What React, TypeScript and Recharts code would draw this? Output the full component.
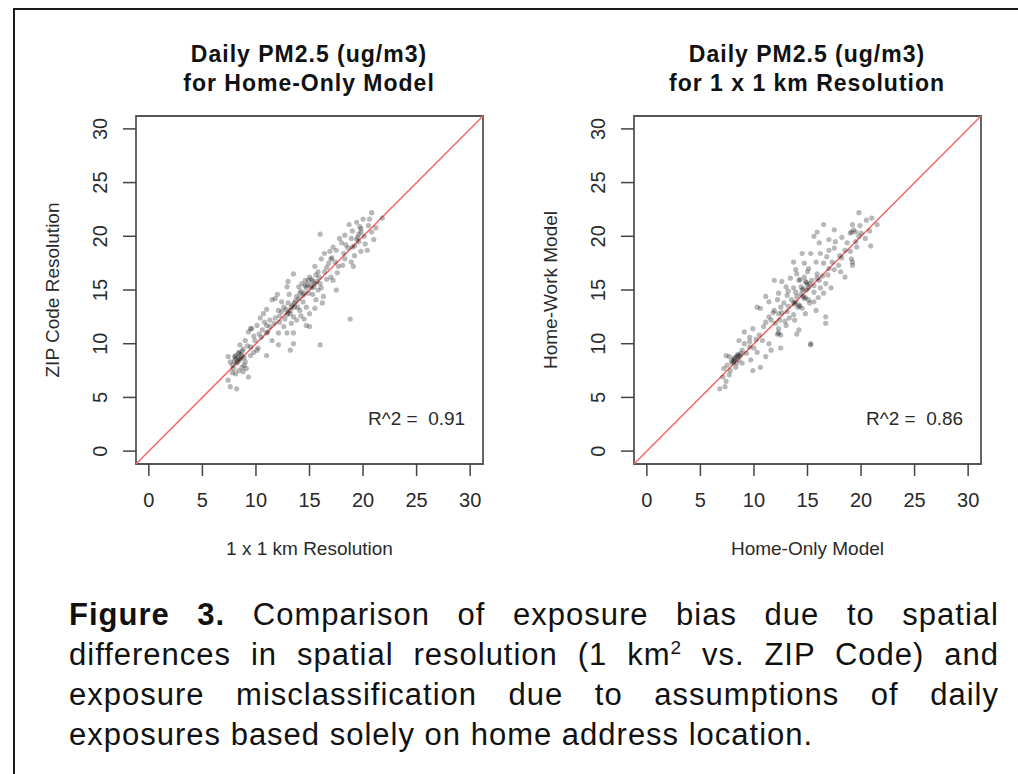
import { ScatterChart, Scatter, XAxis, YAxis, ReferenceLine, ReferenceArea, ReferenceDot } from 'recharts';

// 1 x 1 km Resolution (x) vs ZIP Code Resolution (y)
const kmVsZip: [number, number][] = [
  [20.8, 22.2], [21.8, 21.7], [18.7, 21.1], [19.8, 20.7], [19.8, 20.4], [16.0, 20.2], [20.8, 20.4], [18.3, 20.1],
  [17.8, 19.8], [18.9, 19.8], [19.4, 19.7], [19.5, 19.9], [18.0, 19.4], [18.4, 19.2], [19.8, 18.6], [20.4, 18.7],
  [17.2, 19.0], [17.5, 18.7], [16.4, 18.4], [16.9, 18.6], [16.1, 17.9], [17.0, 17.9], [17.1, 18.0], [18.9, 17.6],
  [19.1, 17.2], [18.1, 17.3], [17.7, 17.2], [13.5, 16.5], [15.5, 17.2], [15.8, 16.7], [15.0, 16.2], [14.6, 15.9],
  [15.3, 15.8], [15.2, 16.0], [16.4, 16.7], [17.0, 16.2], [17.2, 15.9], [14.3, 15.6], [14.0, 15.3], [14.7, 15.2],
  [13.0, 15.8], [12.9, 15.3], [15.2, 15.2], [15.1, 15.4], [14.9, 14.7], [14.4, 14.5], [14.5, 14.7], [13.8, 14.4],
  [15.8, 15.0], [16.1, 15.2], [16.3, 14.4], [15.6, 14.1], [11.5, 14.1], [11.8, 14.2], [12.4, 13.9], [13.0, 13.8],
  [13.3, 13.4], [13.4, 13.6], [13.6, 13.8], [12.6, 13.4], [12.1, 13.1], [14.1, 13.1], [14.7, 13.4], [15.5, 13.3],
  [15.0, 12.8], [12.9, 12.7], [13.0, 12.9], [13.2, 12.8], [13.5, 12.5], [11.8, 12.4], [11.3, 12.2], [10.7, 12.8],
  [10.4, 12.4], [14.7, 11.7], [15.0, 11.6], [18.8, 12.3], [13.8, 12.2], [13.3, 11.9], [12.2, 12.0], [12.6, 11.6],
  [11.0, 11.7], [10.1, 11.7], [9.6, 11.4], [9.3, 11.1], [9.5, 11.4], [11.0, 11.0], [11.1, 11.1], [12.1, 11.0],
  [12.9, 11.0], [13.5, 11.0], [10.5, 10.6], [9.9, 10.3], [11.5, 10.3], [12.1, 9.9], [13.5, 10.0], [13.2, 9.4],
  [16.0, 9.9], [9.0, 10.3], [8.5, 9.9], [9.5, 9.7], [10.1, 9.4], [11.0, 8.9], [10.2, 9.6],
  [8.4, 9.1], [8.4, 9.2], [8.7, 8.8], [8.1, 8.6], [8.5, 8.5], [8.5, 8.6], [9.0, 8.3], [8.2, 8.2], [8.3, 8.3],
  [7.8, 8.0], [8.7, 7.8], [7.9, 7.7], [9.1, 7.7], [7.4, 8.8], [7.6, 8.3], [8.4, 7.5], [8.8, 7.4], [8.1, 7.2],
  [9.3, 6.9], [7.4, 6.6], [8.2, 5.8], [7.6, 6.0], [9.8, 9.2], [9.5, 8.9],
  [14.2, 14.9], [14.8, 15.5], [15.5, 15.6], [15.9, 16.2], [16.6, 17.1], [17.4, 17.6], [18.2, 18.4], [18.6, 18.9],
  [19.2, 19.1], [19.6, 19.5], [20.1, 20.0], [20.5, 21.0], [21.2, 20.8], [20.0, 21.6], [19.0, 20.5], [12.2, 12.6],
  [11.7, 11.9], [12.4, 13.0], [13.7, 14.0], [14.0, 14.2], [10.3, 10.9], [9.8, 10.7], [8.8, 9.5], [9.2, 9.8],
  [8.0, 8.4], [8.1, 8.9], [8.7, 9.3], [7.8, 7.3], [8.9, 8.0], [10.6, 11.3], [11.3, 11.6], [12.7, 12.3],
  [13.9, 13.4], [14.4, 13.9], [15.3, 14.6], [16.0, 15.6], [16.6, 16.0], [17.6, 16.6], [18.3, 17.9], [19.2, 18.2],
  [16.8, 17.5], [15.6, 16.4], [13.1, 14.6], [12.0, 14.6], [11.0, 13.2], [10.8, 12.0], [14.2, 12.6], [14.5, 12.3],
  [16.2, 13.8], [17.5, 15.0], [19.0, 19.0], [20.2, 19.3], [21.0, 19.7], [20.6, 21.6], [19.4, 21.3],
  [8.3, 8.7], [8.6, 9.0], [8.0, 8.8], [8.9, 8.7], [14.6, 15.4], [14.9, 15.9], [15.4, 15.3], [13.6, 13.4],
  [13.2, 13.1], [12.8, 13.2], [19.6, 20.2], [19.7, 20.9], [15.7, 15.8], [14.1, 14.7],
];

// Home-Only Model (x) vs Home-Work Model (y)
const homeVsWork: [number, number][] = [
  [19.8, 22.2], [21.0, 21.7], [21.5, 21.1], [20.5, 21.5], [19.2, 21.1], [19.3, 20.6], [19.0, 20.3], [19.1, 20.4],
  [16.5, 21.1], [17.5, 20.6], [15.9, 20.4], [15.6, 20.0], [16.1, 19.4], [17.6, 19.5], [17.0, 19.7], [19.8, 20.0],
  [20.4, 19.8], [19.5, 19.5], [18.7, 19.4], [14.5, 18.4], [15.3, 18.4], [16.2, 18.4], [17.0, 18.7], [17.5, 18.9],
  [19.0, 18.6], [19.2, 17.6], [19.2, 17.3], [18.2, 18.0], [17.9, 17.3], [13.7, 17.6], [14.7, 17.5], [15.8, 17.6],
  [16.5, 17.5], [17.0, 17.0], [17.5, 16.9], [18.1, 16.7], [13.9, 16.9], [15.0, 16.7], [15.9, 16.5], [11.9, 15.9],
  [12.6, 15.8], [13.4, 16.1], [14.2, 15.9], [14.3, 16.0], [14.8, 15.8], [14.9, 15.7], [15.4, 15.9], [16.1, 15.9],
  [16.7, 15.6], [13.0, 15.3], [13.7, 15.2], [14.5, 15.0], [14.6, 15.1], [15.1, 15.2], [15.6, 14.8], [16.2, 15.2],
  [12.3, 14.7], [13.1, 14.5], [14.0, 14.4], [14.7, 14.2], [14.8, 14.3], [15.1, 14.1], [11.1, 14.4], [11.4, 13.9],
  [12.2, 14.1], [12.8, 13.8], [13.7, 13.8], [13.8, 13.7], [14.2, 13.6], [14.3, 13.5], [14.5, 13.3], [15.8, 13.1],
  [15.6, 13.9], [10.3, 13.4], [10.6, 13.3], [11.9, 13.1], [12.3, 12.8], [13.1, 13.0], [13.7, 12.7], [13.3, 12.4],
  [16.7, 12.5], [16.7, 11.9], [11.4, 12.5], [11.1, 12.0], [12.0, 11.9], [12.3, 11.4], [13.0, 11.7], [14.2, 11.3],
  [12.2, 10.9], [12.3, 11.0], [12.5, 10.8], [14.0, 10.9], [9.9, 11.4], [9.1, 11.1], [9.6, 10.6], [10.5, 10.8],
  [10.8, 10.3], [15.3, 9.9], [15.3, 10.0], [11.4, 10.0], [11.6, 9.4], [12.5, 9.6], [8.6, 10.3], [9.1, 10.0],
  [9.6, 9.7], [10.0, 9.6], [10.3, 9.2], [11.1, 8.8], [10.6, 7.8], [9.7, 8.5], [9.9, 7.5],
  [8.5, 8.9], [8.5, 9.0], [8.8, 9.1], [8.2, 8.6], [8.2, 8.7], [7.7, 8.8], [7.4, 8.9], [8.6, 8.5], [8.0, 8.2],
  [8.1, 8.3], [7.5, 8.0], [8.3, 7.8], [7.8, 7.5], [7.2, 7.7], [8.9, 8.2], [7.1, 6.9], [7.4, 6.5], [7.7, 7.1],
  [6.8, 5.8], [7.3, 6.0],
  [8.9, 9.4], [9.3, 9.1], [8.4, 8.2], [7.9, 8.4], [9.6, 10.2], [10.2, 10.4], [10.9, 11.6], [11.6, 12.2],
  [12.6, 12.9], [13.2, 13.5], [13.5, 14.1], [13.9, 14.8], [14.4, 14.6], [15.0, 15.5], [15.6, 15.4], [15.9, 16.1],
  [16.4, 16.3], [16.9, 16.4], [17.3, 17.6], [18.0, 18.2], [18.5, 18.7], [19.6, 19.0], [20.0, 20.3], [20.8, 20.5],
  [19.9, 21.0], [18.2, 19.9], [16.8, 18.1], [15.1, 17.0], [14.0, 16.5], [13.2, 14.9], [12.5, 13.4], [11.8, 12.9],
  [12.9, 12.1], [13.8, 12.2], [14.8, 12.8], [15.2, 13.8], [16.0, 14.3], [16.5, 14.7], [17.2, 15.2], [18.5, 16.2],
  [19.1, 17.9], [20.9, 19.1],
  [8.4, 8.8], [8.7, 8.9], [8.1, 8.5], [14.6, 14.4], [14.4, 15.3], [14.9, 15.0], [15.2, 15.6], [13.9, 13.9],
  [14.1, 13.4], [12.4, 12.2], [19.5, 20.4], [14.7, 16.2],
];

const ticks = [0, 5, 10, 15, 20, 25, 30];
const axisLimits: [number, number] = [-1.2, 31.2];

const panels = [
  {
    title: ['Daily PM2.5 (ug/m3)', 'for Home-Only Model'],
    xLabel: '1 x 1 km Resolution',
    yLabel: 'ZIP Code Resolution',
    r2: 'R^2 =\u00a0 0.91',
    points: kmVsZip,
    left: 0,
  },
  {
    title: ['Daily PM2.5 (ug/m3)', 'for 1 x 1 km Resolution'],
    xLabel: 'Home-Only Model',
    yLabel: 'Home-Work Model',
    r2: 'R^2 =\u00a0 0.86',
    points: homeVsWork,
    left: 498,
  },
];

const FONT = "'Liberation Sans', Arial, sans-serif";
const INK = '#2a2a2a';

function YTick(props: any) {
  const { x, y, payload } = props;
  return (
    <text x={x} y={y} transform={`rotate(-90 ${x} ${y})`} textAnchor="middle" dy="0.36em" fontSize={20} fill={INK}>
      {payload.value}
    </text>
  );
}

const dot = (p: any) => <circle cx={p.cx} cy={p.cy} r={2.6} fill="#000" fillOpacity={0.28} />;

function Panel({ p }: { p: (typeof panels)[number] }) {
  const data = p.points.map(([x, y]) => ({ x, y }));
  return (
    <div style={{ position: 'absolute', left: p.left, top: 0, width: 520, height: 600 }}>
      <div
        style={{
          position: 'absolute', left: 136 + 173 - 200, top: 40, width: 400, textAlign: 'center',
          fontWeight: 'bold', fontSize: 23, lineHeight: '29px', letterSpacing: 1, color: '#111',
        }}
      >
        {p.title[0]}
        <br />
        {p.title[1]}
      </div>
      <ScatterChart width={520} height={600} margin={{ top: 116, right: 37, bottom: 76, left: 46 }}>
        <XAxis
          type="number"
          dataKey="x"
          domain={axisLimits}
          ticks={ticks}
          allowDataOverflow
          height={60}
          axisLine={false}
          tickLine={{ stroke: '#444', strokeWidth: 1.5 }}
          tickSize={12}
          tickMargin={17}
          tick={{ fontSize: 20, fill: INK }}
          label={{ value: p.xLabel, position: 'bottom', offset: 18, fontSize: 19, fill: INK }}
        />
        <YAxis
          type="number"
          dataKey="y"
          domain={axisLimits}
          ticks={ticks}
          allowDataOverflow
          width={90}
          axisLine={false}
          tickLine={{ stroke: '#444', strokeWidth: 1.5 }}
          tickSize={13}
          tickMargin={23}
          tick={<YTick />}
          label={{ value: p.yLabel, angle: -90, position: 'insideLeft', offset: 6, fontSize: 19, fill: INK, style: { textAnchor: 'middle' } }}
        />
        <ReferenceArea x1={axisLimits[0]} x2={axisLimits[1]} y1={axisLimits[0]} y2={axisLimits[1]} fill="none" stroke="#555" strokeWidth={1.8} fillOpacity={0} />
        <Scatter data={data} shape={dot} isAnimationActive={false} />
        <ReferenceLine
          segment={[{ x: axisLimits[0], y: axisLimits[0] }, { x: axisLimits[1], y: axisLimits[1] }]}
          stroke="#f26a6a"
          strokeWidth={1.5}
        />
        <ReferenceDot
          x={25}
          y={3.1}
          r={0}
          fill="none"
          stroke="none"
          label={{ value: p.r2, position: 'center', fontSize: 19, fill: INK }}
        />
      </ScatterChart>
    </div>
  );
}

export default function App() {
  return (
    <div style={{ position: 'absolute', left: 0, top: 0, width: 1018, height: 774, background: '#fff', overflow: 'hidden', fontFamily: FONT }}>
      <div style={{ position: 'absolute', left: 13, top: 8, width: 1100, height: 900, borderLeft: '2px solid #1a1a1a', borderTop: '2px solid #1a1a1a' }} />
      {panels.map((p) => (
        <Panel key={p.left} p={p} />
      ))}
      <div style={{ position: 'absolute', left: 69, top: 595, width: 930, fontSize: 31, lineHeight: '40px', letterSpacing: 1, color: '#111' }}>
        <div style={{ textAlign: 'justify', textAlignLast: 'justify' }}>
          <b>Figure 3.</b> Comparison of exposure bias due to spatial
        </div>
        <div style={{ textAlign: 'justify', textAlignLast: 'justify' }}>
          differences in spatial resolution (1 km<sup style={{ fontSize: 19, lineHeight: 0 }}>2</sup> vs. ZIP Code) and
        </div>
        <div style={{ textAlign: 'justify', textAlignLast: 'justify' }}>
          exposure misclassification due to assumptions of daily
        </div>
        <div>exposures based solely on home address location.</div>
      </div>
    </div>
  );
}
